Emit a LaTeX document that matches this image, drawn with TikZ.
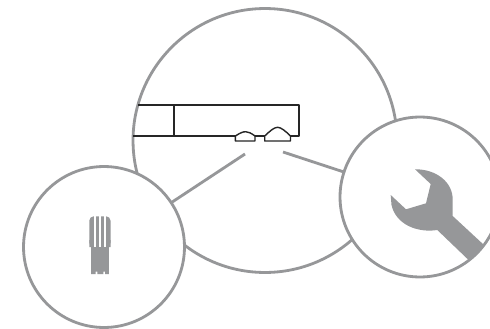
\documentclass[tikz,border=0pt]{standalone}
\usepackage{tikz}
\definecolor{ringgray}{RGB}{150,151,153}
\tikzset{
    ring/.style={circle, draw=ringgray, fill=white, line width=1.6pt, inner sep=0pt, outer sep=0pt},
    spoke/.style={draw=ringgray, line width=1.6pt},
    part/.style={draw=black!85, line width=0.6pt, line join=round},
    glyph/.style={fill=ringgray, draw=none}
}
\begin{document}
\begin{tikzpicture}[x=0.02cm, y=-0.02cm]
\clip (0,0) rectangle (490,328);

% Main circle with the outline inside
\node[ring, minimum size=5.28cm] (MAIN) at (265,140.5) {};
\draw[part] (138,105) -- (299,105) -- (299,136) -- (290,136);
\draw[part] (133,136) -- (235.3,136);
\draw[part, line width=1pt] (174.3,105) -- (174.3,136);
\draw[part, line width=0.8pt] (235.3,141) -- (235.3,136) .. controls (240,133) and (243,131.7) .. (245.5,131.7) .. controls (248,131.7) and (251,133) .. (255,136) -- (255,141) -- cycle;
\draw[part] (255,136) -- (264.7,136);
\draw[part, line width=0.8pt] (264.7,141) -- (264.7,136) .. controls (270,131) and (274,127.3) .. (277.7,127.3) .. controls (281,127.3) and (286,131.5) .. (290.5,136) -- (290.5,141) -- cycle;

% Connector ends
\coordinate (PIN) at (245,154);
\coordinate (TOOLEND) at (283,152);

% Left detail circle
\node[ring, minimum size=3.22cm] (PROBE) at (104,247) {};
\draw[spoke] (PROBE) -- (PIN);
\fill[glyph, rounded corners=2.5pt] (89.3,247) -- (89.3,216.3) -- (110.5,216.3) -- (110.5,247) -- cycle;
\fill[glyph] (89.3,240) rectangle (110.5,247) (91,247) -- (108.8,247) -- (108.8,274) -- (105,274) -- (105,271.7) -- (103.3,271.7) -- (103.3,274) -- (97.3,274) -- (97.3,271.7) -- (95.7,271.7) -- (95.7,274) -- (91,274) -- cycle;
\fill[white] (94,215) rectangle (95.8,247);
\fill[white] (99.2,215) rectangle (100.8,247);
\fill[white] (104.3,215) rectangle (106,247);

% Right detail circle
\node[ring, minimum size=3.2cm] (WRENCH) at (420,197) {};
\draw[spoke] (WRENCH) -- (TOOLEND);
\fill[glyph] (415,169.3) .. controls (436,169) and (453,182) .. (452.7,200) -- (452.7,216) -- (484,245) .. controls (479,251) and (475,256) .. (469.3,260.7) -- (437.3,230) .. controls (418,233) and (396,225) .. (391.5,205) -- (390.7,195) -- (406,209.3) -- (426,203.3) -- (430.7,184) -- cycle;
\end{tikzpicture}
\end{document}
